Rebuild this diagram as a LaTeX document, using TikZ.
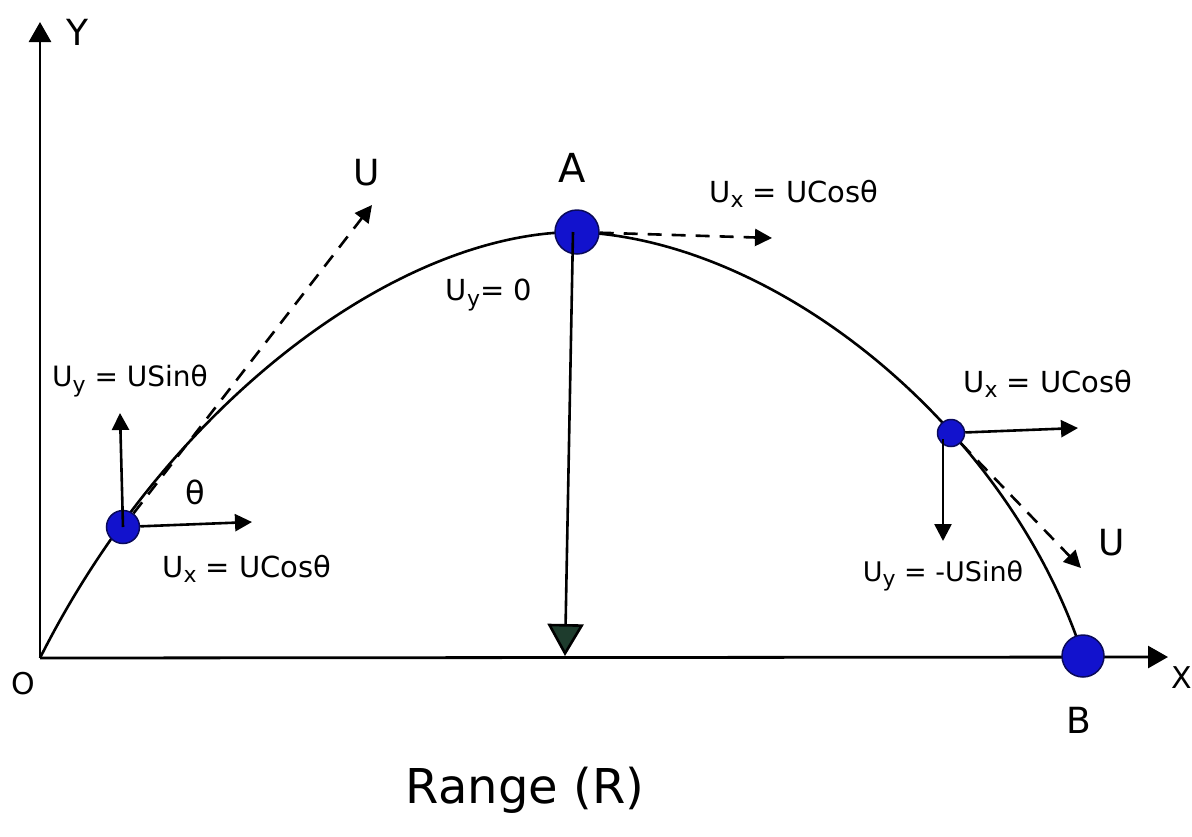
\documentclass[tikz,border=0pt]{standalone}
\usepackage{fontspec}
\setmainfont{DejaVu Sans}
\usetikzlibrary{arrows.meta,positioning}

\definecolor{ballblue}{RGB}{18,18,205}
\definecolor{ballrim}{RGB}{10,10,90}
\definecolor{tipgreen}{RGB}{30,60,45}
\newcommand{\lowidx}[1]{\raisebox{-0.35ex}{\fontsize{22}{24}\selectfont #1}}

\begin{document}
\begin{tikzpicture}[x=1pt, y=-1pt, line width=2.6pt,
    ball/.style={circle, fill=ballblue, draw=ballrim, line width=1.5pt, inner sep=0pt},
    vec/.style={-{Triangle[length=17pt,width=17pt]}},
    dvec/.style={vec, dash pattern=on 14pt off 10pt},
    axis/.style={line width=2.8pt, -{Triangle[length=20pt,width=22pt]}},
    lbl/.style={font=\fontsize{29}{32}\selectfont, inner sep=0pt}
]
\useasboundingbox (0,0) rectangle (1192,836);

% Axes
\coordinate (O) at (40,658);
\coordinate (Ytip) at (40,22);
\coordinate (Xtip) at (1168,657);
\draw[axis] (O) -- (Ytip);
\draw[axis] (O) -- (Xtip);
\node[lbl, font=\fontsize{36}{40}\selectfont] (ylab) at (77,32) {Y};
\node[lbl, font=\fontsize{30}{34}\selectfont] (xlab) at (1182,678) {X};
\node[lbl, font=\fontsize{30}{34}\selectfont] (olab) at (23,684) {O};

% Points on the path
\coordinate (pP) at (123,527);
\coordinate (pA) at (577,232);
\coordinate (pQ) at (951,433);
\coordinate (pB) at (1083,656);

% Trajectory
\draw (O) .. controls (170,400) and (400,232) .. (pA)
          .. controls (780,240) and (1010,430) .. (pB);

% Balls
\node[ball, minimum size=33pt] (P) at (pP) {};
\node[ball, minimum size=44pt] (A) at (pA) {};
\node[ball, minimum size=27pt] (Q) at (pQ) {};
\node[ball, minimum size=42pt] (B) at (pB) {};

% Launch point
\coordinate (Pup) at (120,413);
\coordinate (Pright) at (252,522);
\coordinate (Pvel) at (372,205);
\draw[vec] (P.center) -- (Pup);
\draw[vec] (P) -- (Pright);
\draw[dvec] (P) -- (Pvel);
\node[lbl, font=\fontsize{28}{32}\selectfont] (uy1) at (130,381) {U\lowidx{y} = USinθ};
\node[lbl] (ux1) at (247,569) {U\lowidx{x} = UCosθ};
\node[lbl, font=\fontsize{32}{36}\selectfont] (th1) at (195,492) {θ};
\node[lbl, font=\fontsize{36}{40}\selectfont] (u1) at (367,173) {U};

% Highest point A
\coordinate (Aright) at (772,238);
\coordinate (Adown) at (565,656);
\draw[dvec] (A) -- (Aright);
\draw[-{Triangle[length=32pt,width=36pt,fill=tipgreen]}] (A.center) ++(-4,0) -- (Adown);
\node[lbl, font=\fontsize{40}{44}\selectfont] (alab) at (572,168) {A};
\node[lbl] (ux2) at (794,194) {U\lowidx{x} = UCosθ};
\node[lbl] (uy2) at (489,295) {U\lowidx{y}= 0};

% Descending point
\coordinate (Qright) at (1078,428);
\coordinate (Qdown) at (943,541);
\coordinate (Qvel) at (1081,568);
\draw[vec] (Q) -- (Qright);
\draw[vec] (Q.center) ++(-8,6) -- (Qdown);
\draw[dvec] (Q) -- (Qvel);
\node[lbl] (ux3) at (1048,384) {U\lowidx{x} = UCosθ};
\node[lbl, font=\fontsize{27}{30}\selectfont] (uy3) at (943,576) {U\lowidx{y} = -USinθ};
\node[lbl, font=\fontsize{36}{40}\selectfont] (u3) at (1112,543) {U};

% End point and range
\node[lbl, font=\fontsize{36}{40}\selectfont] (blab) at (1079,720) {B};
\node[lbl, font=\fontsize{48}{52}\selectfont] (range) at (525,790) {Range (R)};

\end{tikzpicture}
\end{document}
